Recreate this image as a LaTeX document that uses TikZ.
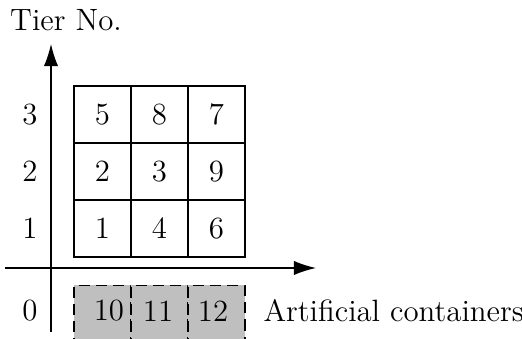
\documentclass[tikz,border=0pt]{standalone}
\usetikzlibrary{arrows.meta}
\begin{document}
\begin{tikzpicture}[x=0.36pt,y=-0.36pt,
  every node/.style={font=\fontsize{11.1}{13}\selectfont},
  cell/.style={draw, line width=0.5pt, minimum size=20.52pt, inner sep=0pt},
  gcell/.style={draw, dashed, dash pattern=on 4pt off 2.2pt, line width=0.5pt, fill=black!25, minimum size=20.52pt, inner sep=0pt},
  axis/.style={line width=0.5pt, -{Latex[length=8pt,width=5.2pt]}},
  lab/.style={inner sep=0pt}]
\useasboundingbox (0,0) rectangle (522,339);
% grid
\node[cell] (c53) at (102.5,114.5) {5};
\node[cell] (c83) at (159.5,114.5) {8};
\node[cell] (c73) at (216.5,114.5) {7};
\node[cell] (c22) at (102.5,171.5) {2};
\node[cell] (c32) at (159.5,171.5) {3};
\node[cell] (c92) at (216.5,171.5) {9};
\node[cell] (c11) at (102.5,228.5) {1};
\node[cell] (c41) at (159.5,228.5) {4};
\node[cell] (c61) at (216.5,228.5) {6};
% artificial row
\node[gcell] (g1) at (102.5,314) {};
\node[gcell] (g2) at (159.5,314) {};
\node[gcell] (g3) at (216.5,314) {};
\node[lab] (t10) at (109,311) {10};
\node[lab] (t11) at (158,311) {11};
\node[lab] (t12) at (213,311) {12};
% axes
\coordinate (yb) at (51,332);
\coordinate (yt) at (51,44);
\coordinate (xl) at (5,268);
\coordinate (xr) at (316,268);
\draw[axis] (yb) -- (yt);
\draw[axis] (xl) -- (xr);
% labels
\node[lab] (tier) at (66,20) {Tier No.};
\node[lab] (l3) at (30,114.5) {3};
\node[lab] (l2) at (30,171.5) {2};
\node[lab] (l1) at (30,228.5) {1};
\node[lab] (l0) at (30,311) {0};
\node[lab, anchor=west] (art) at (263,311) {Artificial containers};
\end{tikzpicture}
\end{document}
